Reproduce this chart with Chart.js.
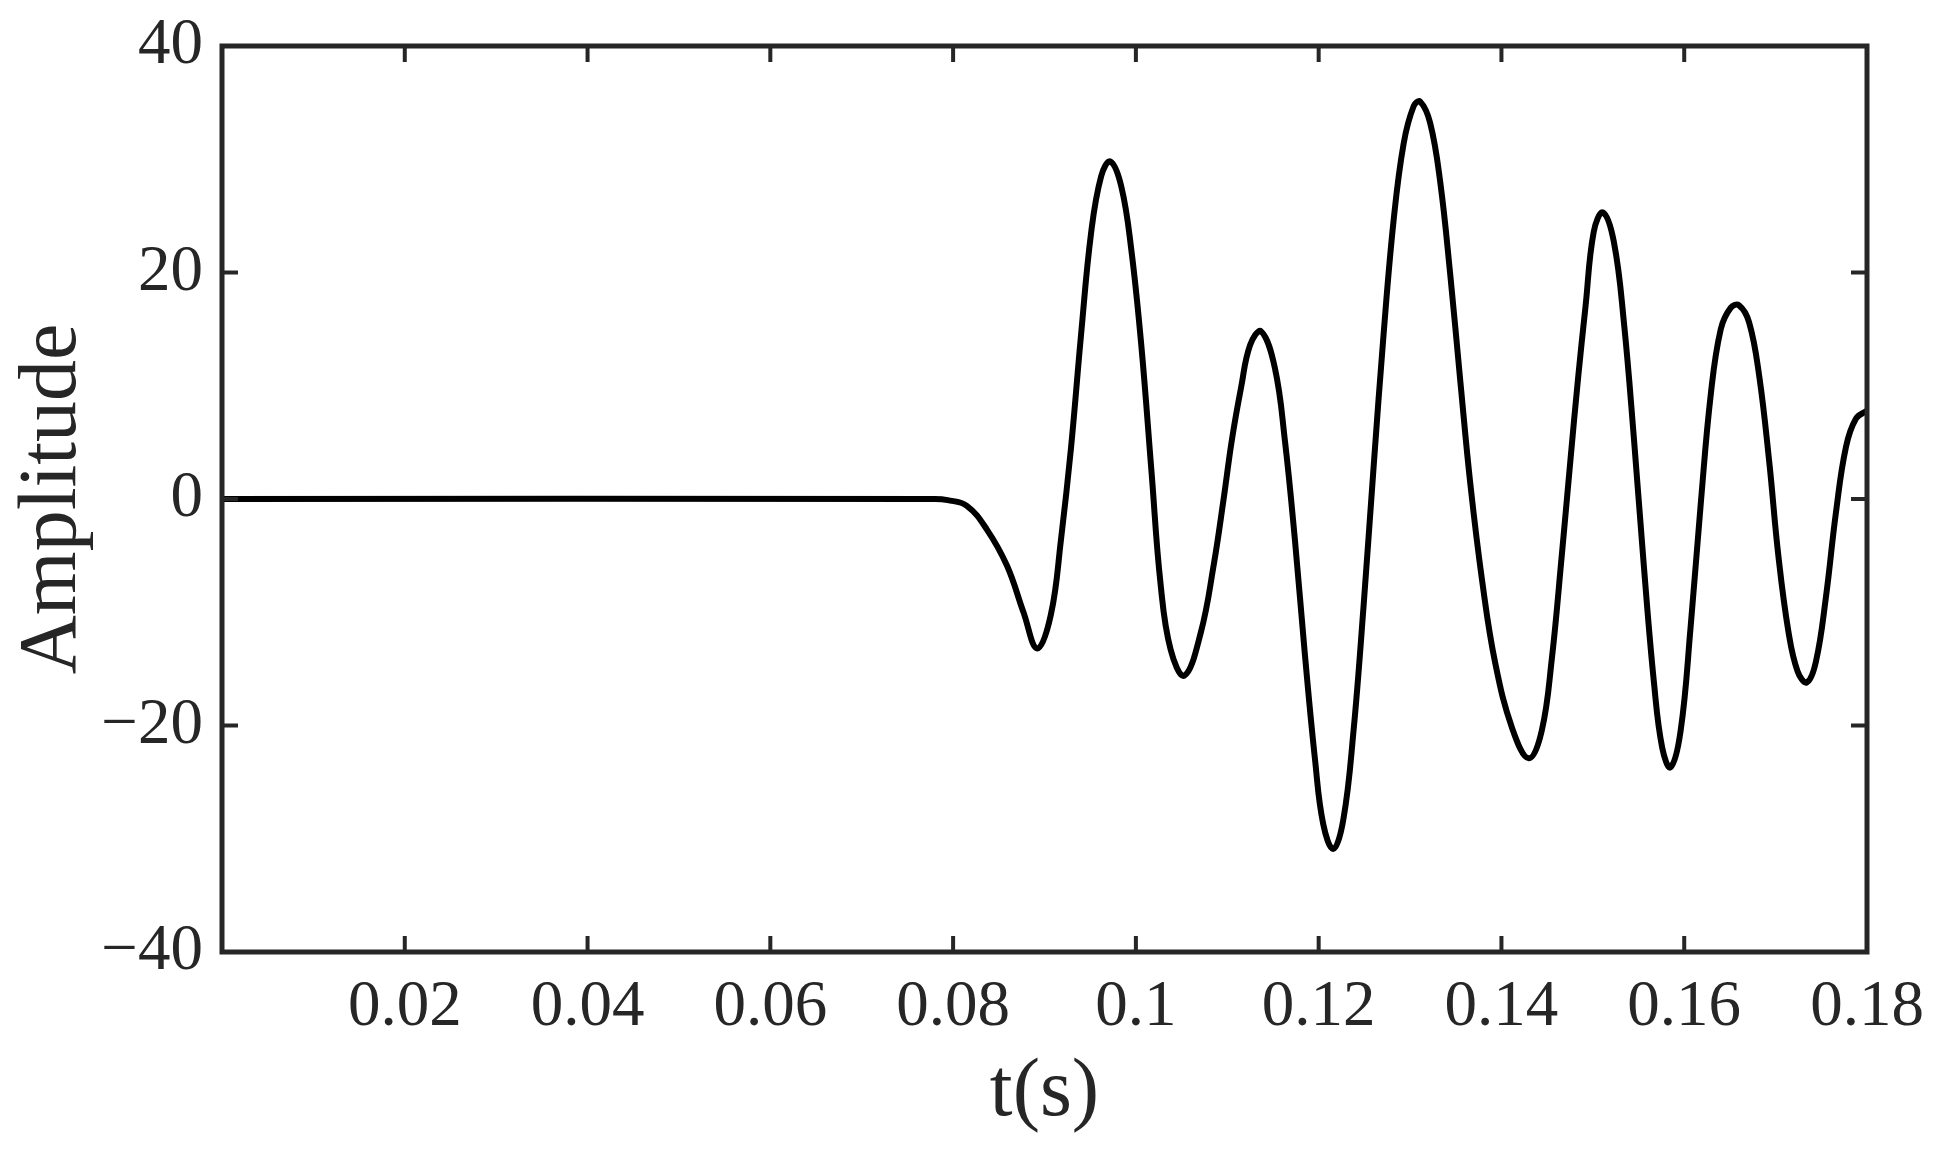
<!DOCTYPE html>
<html>
<head>
<meta charset="utf-8">
<title>Amplitude vs t(s)</title>
<script src="https://cdn.jsdelivr.net/npm/chart.js@4.4.1/dist/chart.umd.min.js"></script>
<style>
  html, body { margin: 0; padding: 0; background: #fff; }
  canvas { display: block; }
</style>
</head>
<body>
<canvas id="waveChart" width="1939" height="1150"></canvas>
<script>
// time samples (s)
const tValues = [
  0, 0.0780, 0.0794, 0.0815, 0.0837, 0.0859, 0.0877, 0.0892, 0.0907, 0.0918,
  0.0929, 0.0940, 0.0951, 0.0962, 0.0972, 0.0984, 0.0995, 0.1006, 0.1017, 0.1027,
  0.1038, 0.1053, 0.1071, 0.1085, 0.1096, 0.1105, 0.1115, 0.1125, 0.1137, 0.1152,
  0.1163, 0.1174, 0.1185, 0.1196, 0.1205, 0.1216, 0.1227, 0.1238, 0.1249, 0.1260,
  0.1271, 0.1282, 0.1293, 0.1304, 0.1311, 0.1322, 0.1333, 0.1344, 0.1355, 0.1366,
  0.1379, 0.1393, 0.1412, 0.1430, 0.1444, 0.1455, 0.1466, 0.1475, 0.1484, 0.1492,
  0.1501, 0.1511, 0.1523, 0.1534, 0.1545, 0.1556, 0.1567, 0.1576, 0.1585, 0.1596,
  0.1607, 0.1618, 0.1629, 0.1640, 0.1651, 0.1660, 0.1671, 0.1682, 0.1693, 0.1703,
  0.1714, 0.1724, 0.1734, 0.1744, 0.1755, 0.1766, 0.1777, 0.1788, 0.1800
];

// amplitude at each sample
const ampValues = [
  0, 0, -0.1, -0.6, -2.7, -5.9, -10.0, -13.2, -10.2, -3.6,
  4.5, 14.5, 23.5, 28.5, 29.8, 27.6, 22.0, 13.5, 2.5, -7.5,
  -13.3, -15.6, -11.8, -5.9, 0.0, 5.2, 9.8, 13.6, 14.8, 11.6,
  5.2, -3.6, -13.8, -23.0, -28.7, -30.9, -28.3, -20.6, -9.6, 2.7,
  14.5, 24.6, 31.4, 34.7, 35.1, 33.2, 28.0, 19.8, 10.4, 1.3,
  -7.3, -14.4, -20.3, -22.9, -20.5, -14.2, -5.0, 3.0, 10.8, 17.0,
  23.6, 25.3, 22.7, 15.6, 5.3, -6.1, -16.3, -22.0, -23.7, -20.5,
  -11.3, -0.5, 9.2, 15.0, 16.9, 17.1, 15.6, 10.9, 3.3, -5.0,
  -11.7, -15.2, -16.2, -14.4, -8.7, -1.2, 4.6, 7.1, 7.8
];

const xRange = [0, 0.18];
const xStep = 0.02;
const yRange = [-40, 40];
const yStep = 20;

const serif = '"Liberation Serif", "Times New Roman", serif';
const axisColor = '#262626';

// MATLAB style box with inward ticks on all four sides
const boxPlugin = {
  id: 'boxTicks',
  afterDraw(chart) {
    const { ctx, chartArea: a, scales } = chart;
    const len = 16;
    ctx.save();
    ctx.strokeStyle = axisColor;
    ctx.lineWidth = 4;
    ctx.lineCap = 'butt';
    ctx.beginPath();
    scales.x.ticks.forEach(t => {
      const px = scales.x.getPixelForValue(t.value);
      ctx.moveTo(px, a.bottom); ctx.lineTo(px, a.bottom - len);
      ctx.moveTo(px, a.top); ctx.lineTo(px, a.top + len);
    });
    scales.y.ticks.forEach(t => {
      const py = scales.y.getPixelForValue(t.value);
      ctx.moveTo(a.left, py); ctx.lineTo(a.left + len, py);
      ctx.moveTo(a.right, py); ctx.lineTo(a.right - len, py);
    });
    ctx.stroke();
    ctx.lineWidth = 5;
    ctx.strokeRect(a.left, a.top, a.right - a.left, a.bottom - a.top);
    ctx.restore();
  }
};

const points = tValues.map((t, i) => ({ x: t, y: ampValues[i] }));

new Chart(document.getElementById('waveChart'), {
  type: 'line',
  data: {
    datasets: [{
      data: points,
      borderColor: '#000',
      borderWidth: 6,
      pointRadius: 0,
      fill: false,
      tension: 0.4
    }]
  },
  options: {
    responsive: false,
    animation: false,
    events: [],
    layout: { padding: { top: 46, right: 72, left: 0, bottom: 0 } },
    plugins: {
      legend: { display: false },
      tooltip: { enabled: false }
    },
    scales: {
      x: {
        type: 'linear',
        min: xRange[0],
        max: xRange[1],
        afterFit: s => { s.height = 198; s.paddingLeft = 0; s.paddingRight = 0; },
        grid: { display: false, drawTicks: false },
        border: { display: false },
        ticks: {
          stepSize: xStep,
          autoSkip: false,
          maxRotation: 0,
          padding: 17,
          color: axisColor,
          font: { family: serif, size: 65 },
          callback: v => (Math.abs(v) < 1e-9 ? '' : String(+v.toFixed(2)))
        },
        title: {
          display: true,
          text: 't(s)',
          color: axisColor,
          font: { family: serif, size: 82 },
          padding: { top: 0, bottom: 7 }
        }
      },
      y: {
        min: yRange[0],
        max: yRange[1],
        afterFit: s => { s.width = 222; s.paddingTop = 0; s.paddingBottom = 0; },
        grid: { display: false, drawTicks: false },
        border: { display: false },
        ticks: {
          stepSize: yStep,
          padding: 19,
          color: axisColor,
          font: { family: serif, size: 65 },
          callback: v => (v < 0 ? '\u2212' + Math.abs(v) : String(v))
        },
        title: {
          display: true,
          text: 'Amplitude',
          color: axisColor,
          font: { family: serif, size: 82 },
          padding: { top: 4, bottom: 0 }
        }
      }
    }
  },
  plugins: [boxPlugin]
});
</script>
</body>
</html>
